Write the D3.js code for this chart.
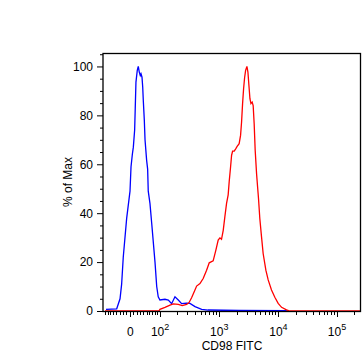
<!DOCTYPE html>
<html>
<head>
<meta charset="utf-8">
<script src="https://cdn.jsdelivr.net/npm/d3@7"></script>
<style>
    body { margin: 0; background: #fff; }
    svg { display: block; font-family: "Liberation Sans", Arial, sans-serif; }
</style>
</head>
<body>
<svg width="362" height="354"></svg>
<script>
// Histogram bins (display channel 0..256) and % of Max
const blueChannels = [3, 13.6, 16.9, 18.5, 20.1, 23.5, 26.8, 27.8, 29.1, 30.1, 31.4, 32, 32.7, 34, 35, 36, 37, 37.7, 38.7, 39.4, 40, 41, 41.7, 43.3, 44.3, 44.9, 46.6, 48.3, 51.6, 53.3, 54.8, 56.5, 61.5, 64.8, 68.1, 71.4, 74.7, 78, 82.8, 86.3, 91.3, 97.9, 104.2, 135, 181, 184];
const blueValues   = [0.7, 0.9, 5, 11, 22, 38, 49, 59, 64, 67, 74, 83, 93.6, 98.4, 100, 97.7, 96.3, 97, 95.6, 91.6, 86, 78, 70, 61.6, 58, 49, 44, 36, 20, 10, 5.8, 4.5, 4.8, 4.5, 3.0, 5.8, 4.5, 3.0, 3.2, 3.1, 1.8, 0.7, 0.4, 0.2, 0.1, 0];

const redChannels = [2, 55.5, 56.5, 61.5, 66.5, 69.7, 74.7, 78.6, 83, 85.3, 87.9, 90.5, 92.9, 96.2, 99.4, 102.8, 105.4, 109.3, 112, 114.3, 116, 117.6, 119.3, 120.9, 122.6, 124.2, 125.2, 126.6, 127.6, 128.6, 130.2, 131.8, 133.1, 135.1, 136.5, 137.5, 138.5, 139.5, 140.5, 141.5, 142.8, 143.8, 144.8, 145.8, 146.8, 148, 149, 150, 151, 152.4, 153.4, 154.3, 155.6, 157.3, 158.9, 161.6, 163.9, 167.2, 170.5, 173.8, 177.2, 182.1, 185.4, 256];
const redValues   = [0, 0, 0.7, 1.5, 2.4, 2.9, 2.7, 2.2, 2.7, 3.4, 5.4, 7.9, 10.2, 11.2, 13.3, 16.7, 19.7, 20.5, 24.9, 29, 29.9, 29.3, 33, 38.5, 44, 47.5, 52.8, 59, 63.7, 65.4, 65.4, 66.4, 67.3, 68.4, 71.8, 77.3, 84.8, 90.9, 95.4, 98.4, 100, 97.7, 92.2, 86.8, 84.8, 85.4, 84, 76.6, 65.7, 56, 50.7, 46, 37.8, 30.3, 23.5, 16.7, 12.7, 8.6, 5.6, 3.1, 1.5, 0.5, 0, 0];

// Axis ticks
const xMajorTicks = [0, 1e2, 1e3, 1e4, 1e5];
const xMajorLabels = [["0", ""], ["10", "2"], ["10", "3"], ["10", "4"], ["10", "5"]];
const xMinorTicks = [-80, -70, -60, -50, -40, -30, -20, -10,
    10, 20, 30, 40, 50, 60, 70, 80, 90,
    200, 300, 400, 500, 600, 700, 800, 900,
    2000, 3000, 4000, 5000, 6000, 7000, 8000, 9000,
    20000, 30000, 40000, 50000, 60000, 70000, 80000, 90000, 200000];
const yMajorTicks = [0, 20, 40, 60, 80, 100];
const yMinorTicks = [5, 10, 15, 25, 30, 35, 45, 50, 55, 65, 70, 75, 85, 90, 95, 105];

// Logicle parameters
const T = 262144, M = 4.41, W = 0.46;

// p from width W
function solveP(w) {
    let lo = 1.0001, hi = 10;
    for (let i = 0; i < 60; i++) {
        const mid = (lo + hi) / 2;
        if (2 * mid * Math.log(mid) / (mid + 1) < w) lo = mid; else hi = mid;
    }
    return (lo + hi) / 2;
}
const p = solveP(W);

// decades -> data value
function logicleS(x) {
    const u = x - W;
    if (u < 0) return -logicleS(2 * W - x);
    return T * Math.pow(10, -(M - W)) * (Math.pow(10, u) - p * p * Math.pow(10, -u / p) + p * p - 1);
}

// data value -> channel 0..256
function toChannel(v) {
    let lo = -1, hi = M + 1;
    for (let i = 0; i < 60; i++) {
        const mid = (lo + hi) / 2;
        if (logicleS(mid) < v) lo = mid; else hi = mid;
    }
    return 256 * ((lo + hi) / 2) / M;
}

function drawGraph() {
    const svg = d3.select("svg");
    svg.selectAll('*').remove();

    attr_area = { left: 103, right: 361, top: 53, bottom: 311 };

    const scX = d3.scaleLinear().domain([0, 256]).range([attr_area.left, attr_area.right]);
    const scY = d3.scaleLinear().domain([0, 105.5]).range([attr_area.bottom, attr_area.top]);

    createAxis(svg, scX, scY, attr_area);

    createLine(svg, blueChannels, blueValues, scX, scY, "#0000ff");
    createLine(svg, redChannels, redValues, scX, scY, "#ff0000");

    // рамка
    svg.append("rect")
        .attr("x", attr_area.left)
        .attr("y", attr_area.top + 0.5)
        .attr("width", attr_area.right - attr_area.left - 0.5)
        .attr("height", attr_area.bottom - attr_area.top)
        .attr("fill", "none")
        .attr("stroke", "#000")
        .attr("stroke-width", 1.3);
}

function createAxis(svg, scX, scY, attr_area) {
    // Y axis
    const axisY = d3.axisLeft(scY).tickValues(yMajorTicks).tickSize(6).tickPadding(4);
    const gy = svg.append("g")
        .attr("transform", `translate(${attr_area.left}, 0)`)
        .call(axisY);
    gy.select(".domain").remove();
    gy.selectAll("text").style("font-size", "12px").attr("fill", "#000");

    svg.append("g").selectAll("line")
        .data(yMinorTicks.filter(d => scY(d) >= attr_area.top))
        .enter()
        .append("line")
        .attr("x1", attr_area.left - 3)
        .attr("x2", attr_area.left)
        .attr("y1", d => scY(d) + 0.5)
        .attr("y2", d => scY(d) + 0.5)
        .attr("stroke", "#000");

    // X axis
    const xMajor = svg.append("g");
    xMajor.selectAll("line")
        .data(xMajorTicks)
        .enter()
        .append("line")
        .attr("x1", d => Math.round(scX(toChannel(d))) + 0.5)
        .attr("x2", d => Math.round(scX(toChannel(d))) + 0.5)
        .attr("y1", attr_area.bottom)
        .attr("y2", attr_area.bottom + 6)
        .attr("stroke", "#000");

    const labels = xMajor.selectAll("text")
        .data(xMajorTicks)
        .enter()
        .append("text")
        .attr("x", d => scX(toChannel(d)) + 0.5)
        .attr("y", attr_area.bottom + 25)
        .attr("text-anchor", "middle")
        .style("font-size", "12px");
    labels.append("tspan").text((d, i) => xMajorLabels[i][0]);
    labels.append("tspan")
        .attr("dy", -6)
        .style("font-size", "9px")
        .text((d, i) => xMajorLabels[i][1]);

    svg.append("g").selectAll("line")
        .data(xMinorTicks)
        .enter()
        .append("line")
        .attr("x1", d => Math.round(scX(toChannel(d))) + 0.5)
        .attr("x2", d => Math.round(scX(toChannel(d))) + 0.5)
        .attr("y1", attr_area.bottom)
        .attr("y2", attr_area.bottom + 4)
        .attr("stroke", "#000");

    // подписи осей
    svg.append("text")
        .attr("x", (attr_area.left + attr_area.right) / 2)
        .attr("y", 350)
        .attr("text-anchor", "middle")
        .style("font-size", "12px")
        .text("CD98 FITC");

    svg.append("text")
        .attr("transform", `translate(72, ${(attr_area.top + attr_area.bottom) / 2}) rotate(-90)`)
        .attr("text-anchor", "middle")
        .style("font-size", "12px")
        .text("% of Max");
}

// линия гистограммы
function createLine(svg, channels, values, scX, scY, color) {
    const data = channels.map((c, i) => ({ ch: c, v: values[i] }));
    const lineGenerator = d3.line()
        .x(d => scX(d.ch))
        .y(d => scY(d.v));

    svg.append("path")
        .datum(data)
        .attr("fill", "none")
        .attr("stroke", color)
        .attr("stroke-width", 1.3)
        .attr("d", lineGenerator);
}

drawGraph();
</script>
</body>
</html>
